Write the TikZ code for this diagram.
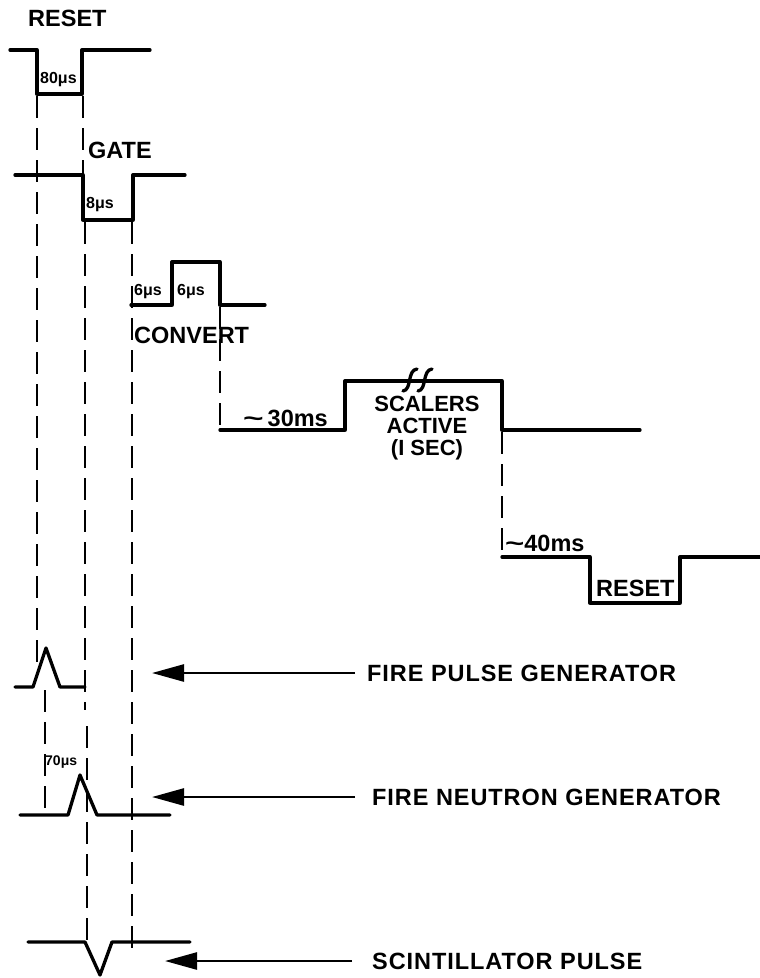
\documentclass[tikz,border=0pt]{standalone}
\usepackage{fontspec}
\setmainfont{Liberation Sans}
\usetikzlibrary{arrows.meta}
\begin{document}
\begin{tikzpicture}[x=1pt,y=-1pt,
  sig/.style={line width=3.3pt,line cap=round,line join=round},
  dsh/.style={line width=2.3pt,dash pattern=on 22pt off 10pt},
  big/.style={inner sep=0pt,anchor=west,font=\bfseries\fontsize{23.5}{25}\selectfont},
  arrlbl/.style={inner sep=0pt,anchor=west,font=\bfseries\fontsize{23.5}{25}\selectfont\addfontfeatures{LetterSpace=4}},
  mid/.style={inner sep=0pt,font=\bfseries\fontsize{22}{23}\selectfont},
  sml/.style={inner sep=0pt,anchor=west,font=\bfseries\fontsize{16}{17}\selectfont},
  arr/.style={line width=2.6pt,-{Triangle[length=32pt,width=17pt]}}]
\useasboundingbox (0,0) rectangle (760,978);

% ---- labels ----
\node[big] (lreset) at (28,18) {RESET};
\node[big] (lgate) at (88,150) {GATE};
\node[big] (lconv) at (134,335) {CONVERT};
\node[sml] (l80) at (40,80) {80μs};
\node[sml] (l8) at (86,205) {8μs};
\node[sml] (l6a) at (134,292) {6μs};
\node[sml] (l6b) at (177,292) {6μs};
\node[big] (l30) at (243,418) {\scalebox{1.5}[1]{\textasciitilde}\,30ms};
\node[mid,align=center] (lscal) at (427,428) {SCALERS\\[-1pt]ACTIVE\\[-1pt](I SEC)};
\node[big] (l40) at (505,543) {\scalebox{1.4}[1]{\textasciitilde}40ms};
\node[big] (lreset2) at (596,588) {RESET};
\node[inner sep=0pt,anchor=west,font=\bfseries\fontsize{14}{15}\selectfont] (l70) at (45,762) {70μs};

\node[arrlbl] (fpg) at (367,673) {FIRE PULSE GENERATOR};
\node[arrlbl] (fng) at (372,797) {FIRE NEUTRON GENERATOR};
\node[arrlbl] (scp) at (372,961) {SCINTILLATOR PULSE};

% ---- arrows ----
\coordinate (fpgtip) at (152,673);
\coordinate (fngtip) at (152,797);
\coordinate (scptip) at (165,961);
\draw[arr] ([xshift=-12pt]fpg.west) -- (fpgtip |- fpg.west);
\draw[arr] ([xshift=-17pt]fng.west) -- (fngtip |- fng.west);
\draw[arr] ([xshift=-20pt]scp.west) -- (scptip |- scp.west);

% ---- waveforms ----
\draw[sig] (10,50) -- (37,50) -- (37,94) -- (82,94) -- (82,50) -- (150,50);
\draw[sig] (15,175) -- (83,175) -- (83,220) -- (133,220) -- (133,175) -- (185,175);
\draw[sig] (131,305) -- (172,305) -- (172,262) -- (220,262) -- (220,305) -- (265,305);
\draw[sig] (220,430) -- (345,430) -- (345,381) -- (502,381) -- (502,430) -- (640,430);
\draw[sig] (403,391) .. controls (412,390) and (407,370) .. (417,369);
\draw[sig] (418,391) .. controls (427,390) and (422,370) .. (432,369);
\draw[sig] (502,557) -- (590,557) -- (590,603) -- (680,603) -- (680,557) -- (760,557);
\draw[sig] (15,687) -- (33,687) -- (46,648) -- (60,687) -- (85,687);
\draw[sig] (20,815) -- (68,815) -- (80,775) -- (97,815) -- (170,815);
\draw[sig] (28,942) -- (85,942) -- (100,975) -- (112,942) -- (190,942);

% ---- dashed timing lines ----
\draw[dsh] (37,96) -- (37,675);
\draw[dsh] (45,690) -- (45,815);
\draw[dsh] (83,96) -- (83,175);
\draw[dsh] (85,222) -- (85,710);
\draw[dsh] (87,726) -- (87,942);
\draw[dsh] (132,222) -- (132,957);
\draw[dsh] (220,307) -- (220,430);
\draw[dsh] (502,432) -- (502,557);
\end{tikzpicture}
\end{document}
